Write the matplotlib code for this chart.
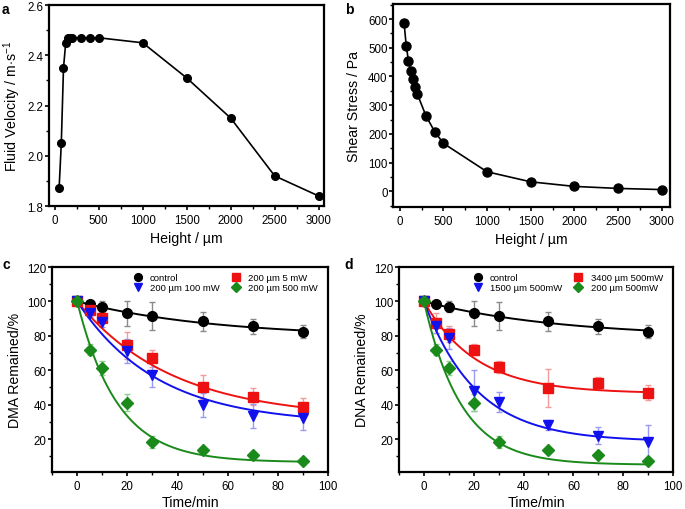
import numpy as np
import matplotlib
matplotlib.use("Agg")
import matplotlib.pyplot as plt
from matplotlib.ticker import MultipleLocator, AutoMinorLocator, FormatStrFormatter

FONT = ['Liberation Sans', 'DejaVu Sans']
plt.rcParams['font.family'] = FONT
plt.rcParams['mathtext.fontset'] = 'custom'
plt.rcParams['mathtext.rm'] = 'Liberation Sans'

# ---------------- data ----------------
height = [50, 75, 100, 125, 150, 175, 200, 300, 400, 500, 1000, 1500, 2000, 2500, 3000]
velocity = [1.87, 2.05, 2.35, 2.45, 2.47, 2.47, 2.47, 2.47, 2.47, 2.47, 2.45, 2.31, 2.15, 1.92, 1.84]
shear = [585, 505, 455, 420, 390, 363, 340, 263, 208, 167, 68, 33, 17, 10, 6]

time = [0, 5, 10, 20, 30, 50, 70, 90]

ctrl = [100, 98.5, 97, 93, 91.5, 88.5, 85.5, 82.5]
ctrl_err = [0, 2, 3, 7.5, 8, 5.5, 4.5, 3.5]

c_red = [100, 95, 90.5, 74.5, 67, 50.5, 44.5, 38.5]
c_red_err = [0, 3, 3, 8, 5, 7, 5, 5.5]
c_blue = [100, 93, 88, 71, 57.5, 40, 33.5, 32]
c_blue_err = [0, 2, 3, 7, 7, 7, 7, 6.5]
c_green = [100, 72, 61.5, 41, 18, 13.5, 10.5, 7]
c_green_err = [0, 3, 4, 5, 3.5, 1.5, 1.5, 1.5]

d_red = [100, 87.5, 81, 72, 62, 49.5, 52.5, 47]
d_red_err = [0, 6, 4.5, 3, 3.5, 11, 3.5, 4.5]
d_blue = [100, 85.5, 78.5, 48, 41.5, 28, 22, 18.5]
d_blue_err = [0, 4, 6, 12, 6, 3, 5, 9.5]
d_green = c_green
d_green_err = c_green_err

# exponential-decay fit parameters: (plateau, tau)
fit_ctrl = (79, 55)
fit_c = {'red': (32, 38), 'blue': (28.7, 32), 'green': (6.5, 16)}
fit_d = {'red': (46.5, 21), 'blue': (18.5, 21), 'green': (5, 15)}

labels_c = ['control', '200 µm 5 mW', '200 µm 100 mW', '200 µm 500 mW']
labels_d = ['control', '3400 µm 500mW', '1500 µm 500mW', '200 µm 500mW']

# ---------------- style ----------------
COL = {'black': '#000000', 'red': '#ee1111', 'blue': '#1111ee', 'green': '#1a8a1a'}
ECOL = {'black': '#8a8a8a', 'red': '#f59a9a', 'blue': '#9a9af5', 'green': '#8fcf8f'}
MARK = {'black': 'o', 'red': 's', 'blue': 'v', 'green': 'D'}
MS = {'black': 7, 'red': 6.5, 'blue': 7, 'green': 6}

TICK_FS = 8.3
LABEL_FS = 10.2

fig = plt.figure(figsize=(6.85, 5.10), dpi=100)

def style_ax(ax):
    for s in ax.spines.values():
        s.set_linewidth(1.6)
    ax.tick_params(which='major', direction='out', length=3, width=1.2,
                   labelsize=TICK_FS, top=False, right=False)
    ax.tick_params(axis='y', which='major', pad=1)
    ax.tick_params(axis='x', which='major', pad=3)
    ax.tick_params(which='minor', direction='out', length=2, width=1.0,
                   top=False, right=False)
    ax.xaxis.set_minor_locator(AutoMinorLocator(2))
    ax.yaxis.set_minor_locator(AutoMinorLocator(2))

# panel a
axa = fig.add_axes([0.0715, 0.594, 0.4015, 0.394])
axa.plot(height, velocity, '-o', color='black', lw=1.2, ms=5.5)
axa.set_xlim(-65, 3060)
axa.set_ylim(1.8, 2.6)
axa.xaxis.set_major_locator(MultipleLocator(500))
axa.yaxis.set_major_locator(MultipleLocator(0.2))
axa.yaxis.set_major_formatter(FormatStrFormatter('%.1f'))
style_ax(axa)
axa.set_xlabel('Height / µm', fontsize=LABEL_FS, labelpad=3)
axa.set_ylabel(r'Fluid Velocity / m$\cdot$s$^{-1}$', fontsize=LABEL_FS, labelpad=3)
fig.text(0.003, 0.995, 'a', fontsize=10, fontweight='bold', va='top', ha='left')

# panel b
axb = fig.add_axes([0.574, 0.592, 0.404, 0.398])
axb.plot(height, shear, '-o', color='black', lw=1.2, ms=6.5)
axb.set_xlim(-75, 3095)
axb.set_ylim(-55, 652)
axb.xaxis.set_major_locator(MultipleLocator(500))
axb.yaxis.set_major_locator(MultipleLocator(100))
style_ax(axb)
axb.set_xlabel('Height / µm', fontsize=LABEL_FS, labelpad=3)
axb.set_ylabel('Shear Stress / Pa', fontsize=LABEL_FS, labelpad=5)
fig.text(0.503, 0.995, 'b', fontsize=10, fontweight='bold', va='top', ha='left')

def decay_panel(ax, series, labels, ylabel):
    tt = np.linspace(0, 90, 200)
    handles = {}
    for key, (vals, errs), fit in series:
        p, tau = fit
        ax.plot(tt, p + (100 - p) * np.exp(-tt / tau), color=COL[key], lw=1.4, zorder=2)
        ax.errorbar(time, vals, yerr=errs, fmt='none', ecolor=ECOL[key],
                    elinewidth=1.0, capsize=2.5, capthick=1.0, zorder=1)
        h, = ax.plot(time, vals, MARK[key], color=COL[key], ms=MS[key],
                     mec=COL[key], zorder=3, ls='none')
        handles[key] = h
    ax.set_xlim(-10, 100)
    ax.set_ylim(0.8, 120)
    ax.xaxis.set_major_locator(MultipleLocator(20))
    ax.set_yticks([20, 40, 60, 80, 100, 120])
    style_ax(ax)
    ax.set_xlabel('Time/min', fontsize=LABEL_FS, labelpad=2)
    ax.set_ylabel(ylabel, fontsize=LABEL_FS, labelpad=4)
    hs = [handles['black'], handles['blue'], handles['red'], handles['green']]
    ls = [labels[0], labels[2], labels[1], labels[3]]
    ax.legend(hs, ls, ncol=2, loc='upper right', bbox_to_anchor=(0.985, 1.0),
              frameon=False, fontsize=6.8, handletextpad=0.5, handlelength=1.6,
              columnspacing=0.9, labelspacing=0.12, borderaxespad=0.25,
              markerscale=0.8)
    return ax

axc = fig.add_axes([0.076, 0.0725, 0.403, 0.402])
decay_panel(axc, [('black', (ctrl, ctrl_err), fit_ctrl),
                  ('red', (c_red, c_red_err), fit_c['red']),
                  ('blue', (c_blue, c_blue_err), fit_c['blue']),
                  ('green', (c_green, c_green_err), fit_c['green'])],
            labels_c, 'DMA Remained/%')
fig.text(0.003, 0.494, 'c', fontsize=10, fontweight='bold', va='top', ha='left')

axd = fig.add_axes([0.5825, 0.0725, 0.400, 0.402])
decay_panel(axd, [('black', (ctrl, ctrl_err), fit_ctrl),
                  ('red', (d_red, d_red_err), fit_d['red']),
                  ('blue', (d_blue, d_blue_err), fit_d['blue']),
                  ('green', (d_green, d_green_err), fit_d['green'])],
            labels_d, 'DNA Remained/%')
fig.text(0.503, 0.494, 'd', fontsize=10, fontweight='bold', va='top', ha='left')

fig.savefig('out.png', dpi=100)
